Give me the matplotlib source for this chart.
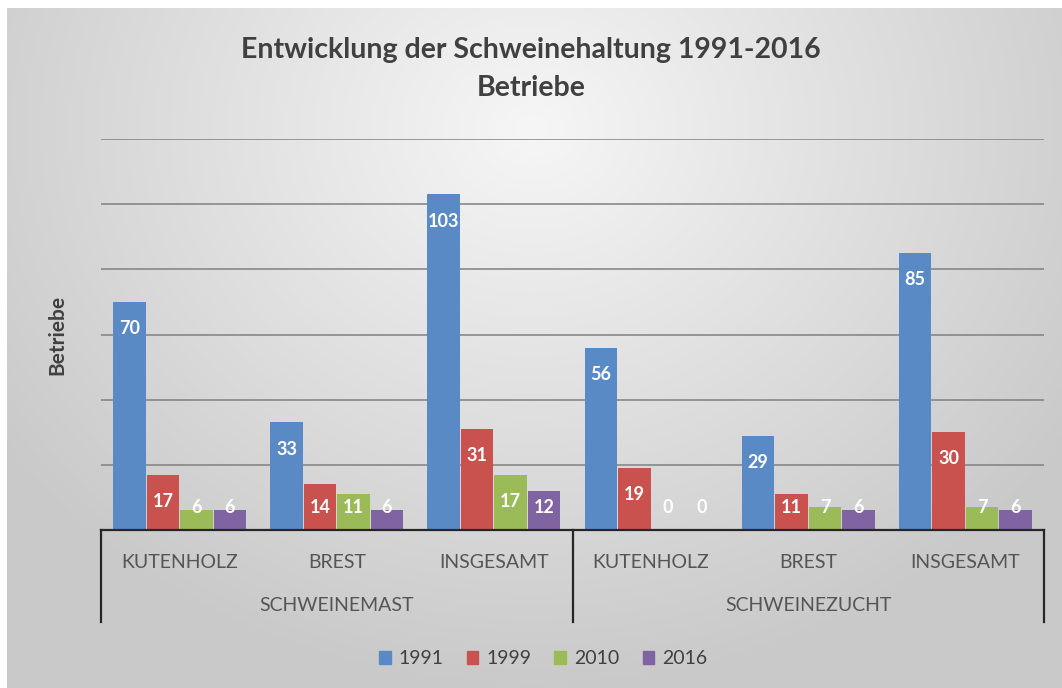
import numpy as np
import matplotlib
matplotlib.use("Agg")
import matplotlib.pyplot as plt
from matplotlib.patches import Patch

# data
groups = ["SCHWEINEMAST", "SCHWEINEZUCHT"]
places = ["KUTENHOLZ", "BREST", "INSGESAMT"]
years = ["1991", "1999", "2010", "2016"]
v1991 = [70, 33, 103, 56, 29, 85]
v1999 = [17, 14, 31, 19, 11, 30]
v2010 = [6, 11, 17, 0, 7, 7]
v2016 = [6, 6, 12, 0, 6, 6]
colors = ["#5a8ac6", "#c9524f", "#9bbb59", "#8064a2"]

plt.rcParams["font.family"] = ["Lato", "DejaVu Sans"]

W, H = 1062, 688
fig = plt.figure(figsize=(W / 100, H / 100), dpi=100, facecolor="white")

# radial grey background like the Excel chart area
bg = fig.add_axes([7 / W, 0, 1 - 7 / W, (H - 8) / H], zorder=-5)
yy, xx = np.mgrid[0:680, 0:1055]
r = np.sqrt(((xx - 525) / 1.15) ** 2 + (yy - 120) ** 2)
g = 0.965 - 0.175 * np.clip(r / 560, 0, 1)
bg.imshow(np.dstack([g, g, g]), aspect="auto", extent=[0, 1, 0, 1])
bg.set_axis_off()

ax = fig.add_axes([101 / W, (H - 530) / H, (1044 - 101) / W, (530 - 139) / H])
ax.set_facecolor("none")
series = [v1991, v1999, v2010, v2016]
x = np.arange(len(v1991))
w = 0.213
for j, (vals, c) in enumerate(zip(series, colors)):
    xs = x + (j - 1.5) * w
    ax.bar(xs, vals, width=w * 0.97, color=c, zorder=3)
    for xi, v in zip(xs, vals):
        ax.text(xi, max(v - 8.2, 7.0), str(v), ha="center", va="center",
                color="white", fontsize=13, fontweight="bold", zorder=4)

ax.set_xlim(-0.5, 5.5)
ax.set_ylim(0, 120)
ax.set_yticks(range(20, 121, 20))
ax.yaxis.grid(True, color="#808080", lw=1.1, zorder=0)
ax.tick_params(left=False, bottom=False, labelleft=False, labelbottom=False)
for s in ["top", "right", "left"]:
    ax.spines[s].set_visible(False)
ax.spines["bottom"].set_color("#262626")
ax.spines["bottom"].set_linewidth(1.6)
ax.spines["bottom"].set_zorder(5)

# two-level category axis
trans = ax.get_xaxis_transform()
for i in range(len(x)):
    ax.text(i, -0.082, places[i % 3], transform=trans, ha="center", va="center",
            fontsize=14, color="#555555")
for k, grp in enumerate(groups):
    ax.text(3 * k + 1, -0.194, grp, transform=trans, ha="center", va="center",
            fontsize=14, color="#555555")
for xb in [-0.5, 2.5, 5.5]:
    ax.plot([xb, xb], [0, -0.235], transform=trans, color="#262626", lw=1.6,
            clip_on=False)

fig.text(531 / W, 1 - 50 / H, "Entwicklung der Schweinehaltung 1991-2016",
         ha="center", va="center", fontsize=20.5, fontweight="bold", color="#404040")
fig.text(531 / W, 1 - 88 / H, "Betriebe", ha="center", va="center",
         fontsize=20.5, fontweight="bold", color="#404040")
fig.text(57 / W, 1 - 335 / H, "Betriebe", rotation=90, ha="center", va="center",
         fontsize=15, fontweight="bold", color="#404040")

handles = [Patch(color=c, label=yl) for c, yl in zip(colors, years)]
fig.legend(handles=handles, loc="center", bbox_to_anchor=(543 / W, 1 - 659 / H),
           ncol=4, frameon=False, fontsize=14, handlelength=0.6, handleheight=0.6,
           handletextpad=0.4, columnspacing=1.2, labelcolor="#404040")

fig.savefig("out.png", dpi=100, facecolor="white")
